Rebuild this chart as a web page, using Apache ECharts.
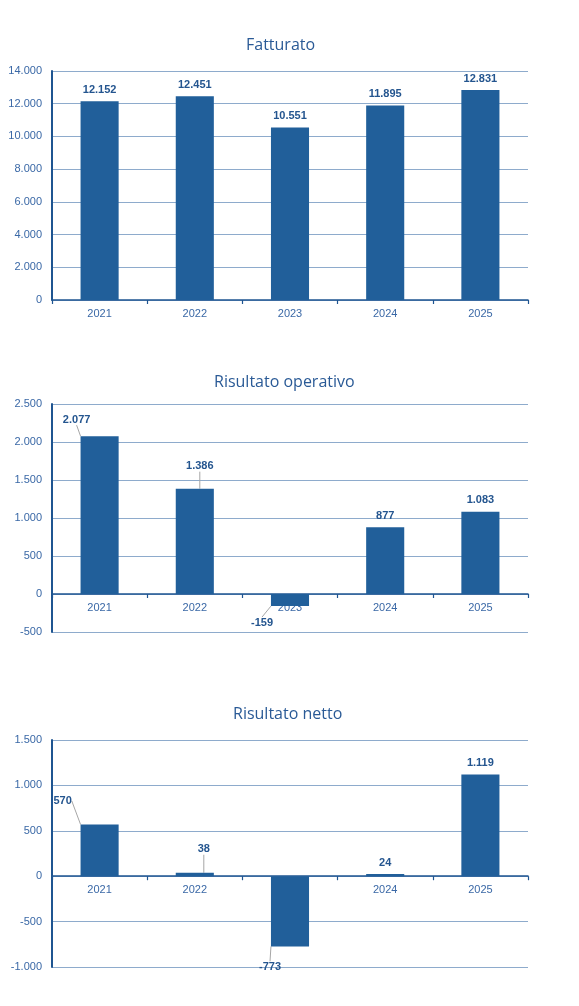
<!DOCTYPE html>
<html><head><meta charset="utf-8">
<script src="https://cdn.jsdelivr.net/npm/echarts@6/dist/echarts.min.js"></script>
<style>html,body{margin:0;padding:0;background:#fff}#c{width:579px;height:1006px}</style>
</head><body><div id="c"></div>
<script>
const years = ['2021','2022','2023','2024','2025'];
const fatturato = [12152, 12451, 10551, 11895, 12831];
const risOperativo = [2077, 1386, -159, 877, 1083];
const risNetto = [570, 38, -773, 24, 1119];
const titles = ['Fatturato', 'Risultato operativo', 'Risultato netto'];

const fmt = v => { const s = Math.abs(v).toString().replace(/\B(?=(\d{3})+(?!\d))/g, '.'); return (v < 0 ? '-' : '') + s; };

const BAR = '#215f9a', AXIS = '#1f5591', GRIDC = '#8eabcc', TXT = '#3a68a6', LBL = '#24558f';
// label offsets (dx, dy) for moved labels with leader lines
const moves = [
  [null, null, null, null, null],
  [[-23,-5],[5,-11],[-28,5],null,null],
  [[-37,-12],[9,-12],[-20,9],null,null]
];
const grids = [
  {left:52, right:51, top:71, height:229},
  {left:52, right:51, top:404, height:228},
  {left:52, right:51, top:740, height:227}
];
const yCfg = [
  {min:0, max:14000, interval:2000},
  {min:-500, max:2500, interval:500},
  {min:-1000, max:1500, interval:500}
];
const series = [fatturato, risOperativo, risNetto];
const titleLeft = [246, 214, 233];
const titleTop = [37, 374, 706];

const option = {
  animation:false,
  title: titles.map((t,i)=>({text:t, left:titleLeft[i], top:titleTop[i], padding:0,
    textStyle:{fontFamily:'Open Sans', fontSize:16, fontWeight:'normal', color:'#2a5a96'}})),
  grid: grids,
  xAxis: grids.map((g,i)=>({type:'category', gridIndex:i, data:years,
    axisLine:{onZero:true, lineStyle:{color:AXIS, width:1.5}},
    axisTick:{show:true, length:4, lineStyle:{color:AXIS, width:1.2}},
    axisLabel:{margin: 8 - g.height * (0 - yCfg[i].min) / (yCfg[i].max - yCfg[i].min),
      color:TXT, fontFamily:'Liberation Sans', fontSize:11}})),
  yAxis: grids.map((g,i)=>({type:'value', gridIndex:i, min:yCfg[i].min, max:yCfg[i].max, interval:yCfg[i].interval,
    axisLine:{show:true, lineStyle:{color:AXIS, width:2}},
    axisTick:{show:false},
    splitLine:{lineStyle:{color:GRIDC, width:1}},
    axisLabel:{margin:10, color:TXT, fontFamily:'Liberation Sans', fontSize:11, formatter:v=>fmt(v)}})),
  series: series.map((vals,i)=>({
    type:'bar', xAxisIndex:i, yAxisIndex:i, barWidth:'40%',
    itemStyle:{color:BAR},
    data: vals.map((v,j)=>({value:v, labelLine:{show: !!moves[i][j]}})),
    label:{show:true, position:'outside', distance:6, color:LBL, fontFamily:'Liberation Sans', fontSize:11, fontWeight:'bold', formatter:p=>fmt(p.value)},
    labelLine:{show:false, lineStyle:{color:'#a6a6a6', width:1}},
    labelLayout: p => { const m = moves[i][p.dataIndex]; return m ? {dx:m[0], dy:m[1]} : {}; }
  }))
};
const chart = echarts.init(document.getElementById('c'));
chart.setOption(option);
</script></body></html>
